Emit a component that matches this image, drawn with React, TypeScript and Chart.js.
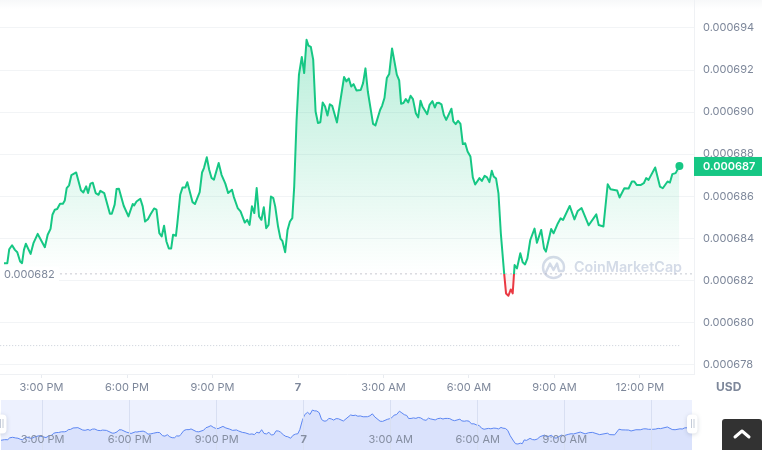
import React, { useEffect, useRef } from "react";
import { Chart, registerables } from "chart.js";

Chart.register(...registerables);

// minutes after 3:00 PM
const minutes = [
  -79,-72,-68,-62,-56,-51,-45,-41,-37,-33,-23,-17,-8,7,13,19,23,28,33,39,45,49,53,58,63,73,83,88,94,98,103,108,114,120,124,132,144,148,154,158,163,173,183,192,195,200,208,213,218,224,229,237,242,248,253,258,263,268,273,277,283,286,292,297,303,307,318,323,333,338,342,348,353,358,363,373,379,387,393,401,405,413,419,428,433,438,443,448,453,458,463,468,473,478,483,488,492,498,503,507,513,518,523,528,
  532,537,542,548,553,558,562,567,572,577,582,587,592,597,602,607,612,622,637,642,647,652,657,663,672,677,682,687,698,703,713,717,722,727,732,738,743,748,753,757,762,767,772,777,782,788,793,798,802,812,817,823,828,832,837,842,847,852,863,867,872,877,882,887,892,897,903,908,913,922,927,933,938,943,948,952,957,962,967,
  974,978,983,988,992,996,1001,1008,1013,1018,1023,1029,1038,1043,1052,1058,1062,1073,1078,1087,1093,1098,1112,1122,1129,1137,1152,1168,1173,1183,1192,1198,1206,1212,1217,1227,1236,1243,1248,1253,1262,1268,1273,1278,1292,1302,1308,1318,1323,1328,1335,1343,
];
// price in millionths of a dollar
const prices = [
  682.82,682.82,683.48,683.67,683.45,683.34,682.9,682.82,683.45,683.74,683.26,683.77,684.21,683.58,684.17,684.45,685.12,685.36,685.39,685.64,685.64,685.8,686.39,686.52,687.01,687.13,686.28,686.18,686.47,686.15,686.6,686.64,686.15,686.07,686.26,686.15,685.17,685.17,685.6,686.34,686.36,685.55,685.04,685.63,685.56,685.75,685.88,685.52,684.8,684.91,685.12,685.42,685.36,684.25,684.09,684.6,683.85,683.52,683.52,684.17,684.12,684.72,686.07,686.42,686.42,686.67,685.72,685.63,686.2,687.13,687.34,687.85,687.26,686.87,686.79,687.58,687.02,686.6,686.15,686.31,685.96,685.44,685.28,684.75,684.88,684.64,685.52,685.2,686.39,685.04,684.88,685.48,684.48,684.64,685.99,685.91,685.52,684.56,683.99,683.88,683.34,684.4,684.8,684.96,
  686.46,689.63,691.78,692.62,691.86,693.44,693.16,693.1,692.49,690.03,689.48,689.52,690.46,690.27,689.84,690.37,690.3,689.51,691.67,691.46,691.6,691.22,691.33,691.03,691.05,691.38,692.08,690.98,689.44,689.37,690.11,690.3,690.67,691.62,691.81,693.03,692.41,691.78,691.51,690.4,690.43,690.62,690.46,690.78,690.62,689.95,689.75,690.54,690.27,689.9,690.35,690.52,690.22,690.43,690.44,690.37,689.87,689.63,690.16,689.56,689.43,689.59,689.44,688.48,688.52,688.13,687.89,686.9,686.56,686.86,686.73,686.97,686.9,686.67,687.21,686.94,686.84,686.14,684.24,
  682.33,681.38,681.27,681.57,681.38,682.73,682.57,683.29,682.86,682.76,683.05,683.92,684.46,683.79,684.4,683.52,683.37,684.44,684.24,684.71,684.95,684.87,685.54,684.9,685.3,685.44,684.62,685.14,684.63,684.56,686.57,686.33,686.3,686.27,685.94,686.38,686.37,686.7,686.7,686.54,686.54,686.62,686.86,686.78,687.37,686.46,686.38,686.7,686.65,687.05,687.1,687.44,
];
const yTicks = [678, 680, 682, 684, 686, 688, 690, 692, 694];
const xTickMinutes = [0, 180, 360, 540, 720, 900, 1080, 1260];
const xTickLabels = ["3:00 PM", "6:00 PM", "9:00 PM", "7", "3:00 AM", "6:00 AM", "9:00 AM", "12:00 PM"];
const navTickLabels = ["3:00 PM", "6:00 PM", "9:00 PM", "7", "3:00 AM", "6:00 AM", "9:00 AM", ""];
const baselinePrice = 682.31;
const baselineLabel = "0.000682";
const lowerPrice = 678.9;
const lastPriceLabel = "0.000687";
const currencyLabel = "USD";
const watermark = "CoinMarketCap";
const navLeadIn = { minute: -86, price: 682.6 };

const FONT = "Inter, sans-serif";
const GREEN = "#16c784";
const RED = "#ea3943";
const GRID = "#f2f4f6";
const AXIS = "#7d879a";

const points = minutes.map((m, i) => ({ x: m, y: prices[i] }));

const noPadding = (s: any) => {
  s.paddingLeft = 0;
  s.paddingRight = 0;
  s.paddingTop = 0;
  s.paddingBottom = 0;
};

export default function App() {
  const mainRef = useRef<HTMLCanvasElement>(null);
  const navRef = useRef<HTMLCanvasElement>(null);

  useEffect(() => {
    const mainCtx = mainRef.current!.getContext("2d")!;
    const area = mainCtx.createLinearGradient(0, 40, 0, 274);
    area.addColorStop(0, "rgba(22,199,132,0.30)");
    area.addColorStop(1, "rgba(22,199,132,0)");
    const stroke = mainCtx.createLinearGradient(0, 274, 0, 274.5);
    stroke.addColorStop(0, GREEN);
    stroke.addColorStop(1, RED);

    const mainDecor = {
      id: "mainDecor",
      beforeDraw(c: any) {
        const { ctx, width } = c;
        const band = ctx.createLinearGradient(0, 0, 0, 9);
        band.addColorStop(0, "#f7f8f9");
        band.addColorStop(1, "#ffffff");
        ctx.save();
        ctx.fillStyle = band;
        ctx.fillRect(0, 0, width, 9);
        ctx.restore();
      },
      beforeDatasetsDraw(c: any) {
        const { ctx } = c;
        ctx.save();
        ctx.strokeStyle = "#d5dbe8";
        ctx.lineWidth = 2.4;
        ctx.lineCap = "round";
        ctx.lineJoin = "round";
        ctx.beginPath();
        ctx.arc(553.5, 267.5, 10.5, 0.25 * Math.PI, 2.08 * Math.PI, false);
        ctx.stroke();
        ctx.beginPath();
        ctx.moveTo(546, 272);
        ctx.lineTo(550, 263.5);
        ctx.lineTo(553.5, 270);
        ctx.lineTo(557, 263.5);
        ctx.lineTo(559, 271);
        ctx.lineTo(563, 271);
        ctx.stroke();
        ctx.fillStyle = "#d5dbe8";
        ctx.font = `600 14.3px ${FONT}`;
        ctx.textAlign = "left";
        ctx.textBaseline = "middle";
        ctx.fillText(watermark, 574, 268);
        ctx.restore();
      },
      afterDraw(c: any) {
        const { ctx } = c;
        const y = c.scales.y;
        ctx.save();
        ctx.textBaseline = "middle";
        ctx.fillStyle = "#ffffff";
        ctx.fillRect(0, 267, 59, 14);
        ctx.fillStyle = AXIS;
        ctx.font = `11px ${FONT}`;
        ctx.fillText(baselineLabel, 4, y.getPixelForValue(baselinePrice) + 1);
        const last = y.getPixelForValue(prices[prices.length - 1]);
        ctx.fillStyle = GREEN;
        ctx.fillRect(694, last - 9, 68, 19);
        ctx.fillStyle = "#ffffff";
        ctx.font = `600 11px ${FONT}`;
        ctx.fillText(lastPriceLabel, 703, last + 0.5);
        ctx.fillStyle = AXIS;
        ctx.font = `700 12px ${FONT}`;
        ctx.fillText(currencyLabel, 716, 387);
        ctx.restore();
      },
    };

    const main = new Chart(mainRef.current!, {
      type: "line",
      data: {
        datasets: [
          {
            data: points,
            borderColor: stroke,
            borderWidth: 2,
            borderJoinStyle: "round",
            tension: 0,
            fill: { target: { value: baselinePrice }, above: area, below: "rgba(234,57,67,0.05)" },
            pointRadius: (ctx: any) => (ctx.dataIndex === points.length - 1 ? 4 : 0),
            pointBackgroundColor: GREEN,
            pointBorderColor: GREEN,
            pointBorderWidth: 0,
            order: 1,
          },
          {
            data: [{ x: 40, y: baselinePrice }, { x: 1374, y: baselinePrice }],
            borderColor: "#8d95a4",
            borderWidth: 1,
            borderDash: [1, 4],
            pointRadius: 0,
            fill: false,
            order: 2,
          },
          {
            data: [{ x: -87, y: lowerPrice }, { x: 1343, y: lowerPrice }],
            borderColor: "#c9ced8",
            borderWidth: 1,
            borderDash: [1, 2],
            pointRadius: 0,
            fill: false,
            order: 2,
          },
        ],
      } as any,
      options: {
        animation: false,
        responsive: false,
        devicePixelRatio: 1,
        layout: { padding: 0, autoPadding: false },
        plugins: { legend: { display: false }, tooltip: { enabled: false } },
        events: [],
        scales: {
          x: {
            type: "linear",
            min: -87.4,
            max: 1373.7,
            afterFit: (s: any) => { s.height = 26; noPadding(s); },
            afterBuildTicks: (s: any) => { s.ticks = xTickMinutes.map((value) => ({ value })); },
            grid: { drawOnChartArea: false, drawTicks: true, tickLength: 4, color: "#e8ebf0" },
            border: { color: "#eff1f4" },
            ticks: {
              autoSkip: false,
              maxRotation: 0,
              padding: 3.5,
              color: AXIS,
              font: (ctx: any) => ({ family: FONT, size: 11, weight: xTickLabels[ctx.index] === "7" ? "700" : "400" }),
              callback: (_v: any, i: number) => xTickLabels[i],
            },
          },
          y: {
            type: "linear",
            position: "right",
            min: 677.55,
            max: 695.33,
            afterFit: (s: any) => { s.width = 68; noPadding(s); },
            afterBuildTicks: (s: any) => { s.ticks = yTicks.map((value) => ({ value })); },
            grid: { color: GRID, drawTicks: false },
            border: { color: "#eff1f4" },
            ticks: {
              padding: 9,
              color: AXIS,
              font: { family: FONT, size: 11 },
              callback: (v: any) => (Number(v) / 1e6).toFixed(6),
            },
          },
        },
      },
      plugins: [mainDecor],
    } as any);

    const navDecor = {
      id: "navDecor",
      beforeDraw(c: any) {
        const { ctx, chartArea: a } = c;
        ctx.save();
        ctx.fillStyle = "#edf1fe";
        ctx.fillRect(a.left, 0, a.right - a.left, 50);
        ctx.restore();
      },
      afterDraw(c: any) {
        const { ctx } = c;
        ctx.save();
        for (const hx of [-4, 687]) {
          ctx.save();
          ctx.shadowColor = "rgba(88,102,126,0.25)";
          ctx.shadowBlur = 4;
          ctx.shadowOffsetY = 1;
          ctx.fillStyle = "#ffffff";
          ctx.beginPath();
          ctx.roundRect(hx, 14.5, 10.5, 19, 4);
          ctx.fill();
          ctx.restore();
          ctx.fillStyle = "#c4cbd8";
          ctx.fillRect(hx + 4, 19, 1, 9);
          ctx.fillRect(hx + 6.5, 19, 1, 9);
        }
        ctx.fillStyle = "#323232";
        ctx.beginPath();
        ctx.roundRect(722, 19, 40, 34, [3, 3, 0, 0]);
        ctx.fill();
        ctx.strokeStyle = "#ffffff";
        ctx.lineWidth = 3;
        ctx.lineCap = "round";
        ctx.lineJoin = "round";
        ctx.beginPath();
        ctx.moveTo(735, 37);
        ctx.lineTo(742, 31);
        ctx.lineTo(749, 37);
        ctx.stroke();
        ctx.restore();
      },
    };

    const nav = new Chart(navRef.current!, {
      type: "line",
      data: {
        datasets: [
          {
            data: [{ x: navLeadIn.minute, y: navLeadIn.price }, ...points],
            borderColor: "#5d87f3",
            borderWidth: 1,
            tension: 0,
            pointRadius: 0,
            fill: "start",
            backgroundColor: "#dae2fc",
          },
        ],
      } as any,
      options: {
        animation: false,
        responsive: false,
        devicePixelRatio: 1,
        layout: { padding: { left: 1, right: 70, top: 0, bottom: 0 }, autoPadding: false },
        plugins: { legend: { display: false }, tooltip: { enabled: false } },
        events: [],
        scales: {
          x: {
            type: "linear",
            min: -86,
            max: 1343,
            afterFit: (s: any) => { s.height = 0; noPadding(s); },
            afterBuildTicks: (s: any) => { s.ticks = xTickMinutes.map((value) => ({ value })); },
            grid: { color: "#d8dff2", drawTicks: false, z: 1 },
            border: { display: false },
            ticks: {
              z: 1,
              mirror: true,
              autoSkip: false,
              maxRotation: 0,
              padding: 4,
              color: "#858ea1",
              font: (ctx: any) => ({ family: FONT, size: 11, weight: navTickLabels[ctx.index] === "7" ? "700" : "400" }),
              callback: (_v: any, i: number) => navTickLabels[i],
            },
          },
          y: {
            type: "linear",
            display: false,
            min: 679.12,
            max: 697.04,
          },
        },
      },
      plugins: [navDecor],
    } as any);

    return () => {
      main.destroy();
      nav.destroy();
    };
  }, []);

  return (
    <div style={{ position: "absolute", left: 0, top: 0, width: 762, height: 450, overflow: "hidden", background: "#fff" }}>
      <canvas ref={mainRef} width={762} height={400} style={{ position: "absolute", left: 0, top: 0 }} />
      <canvas ref={navRef} width={762} height={50} style={{ position: "absolute", left: 0, top: 400 }} />
    </div>
  );
}
